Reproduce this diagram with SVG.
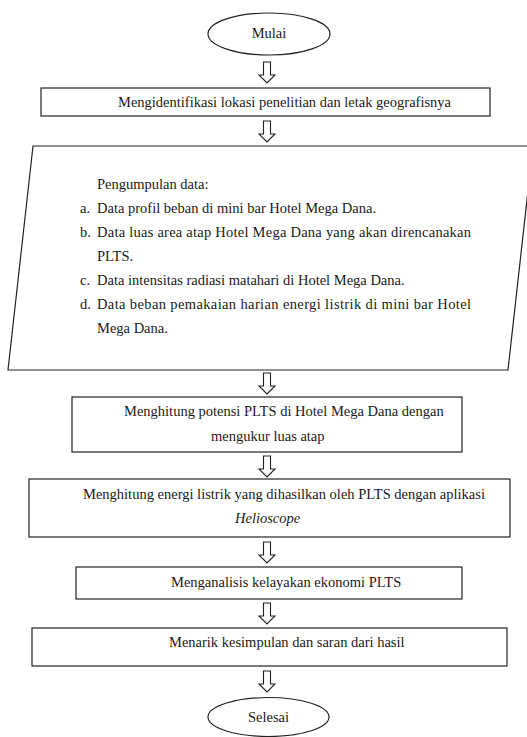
<svg xmlns="http://www.w3.org/2000/svg" width="527" height="737" viewBox="0 0 527 737">
<style>
.shape{fill:#fff;stroke:#222;stroke-width:1.2}
.arr{fill:#fff;stroke:#222;stroke-width:1.1;stroke-linejoin:miter}
text{font-family:"Liberation Serif","Times New Roman","DejaVu Serif",serif;font-size:14.5px;fill:#1a1a1a}
.c{text-anchor:middle}
.i{font-style:italic}
</style>
<defs>
<path id="arrow" d="M -3.5 0 H 3.5 V 13 H 8 L 0 21 L -8 13 H -3.5 Z"/>
</defs>
<rect width="527" height="737" fill="#fff"/>
<g id="connectors">
<use href="#arrow" class="arr" x="267" y="62"/>
<use href="#arrow" class="arr" x="267" y="121"/>
<use href="#arrow" class="arr" x="267" y="373"/>
<use href="#arrow" class="arr" x="267" y="456"/>
<use href="#arrow" class="arr" x="267" y="542"/>
<use href="#arrow" class="arr" x="267" y="603"/>
<use href="#arrow" class="arr" x="267" y="671"/>
</g>
<g id="mulai">
<ellipse class="shape" cx="269" cy="34" rx="61" ry="21"/>
<text class="c" x="269" y="38">Mulai</text>
</g>
<g id="identifikasi">
<rect class="shape" x="41" y="88" width="449" height="28"/>
<text x="118" y="107">Mengidentifikasi lokasi penelitian dan letak geografisnya</text>
</g>
<g id="pengumpulan">
<polygon class="shape" points="33,146 533,146 508,370 8,370"/>
<text x="97" y="189">Pengumpulan data:</text>
<text x="80" y="213">a.</text>
<text x="97" y="213">Data profil beban di mini bar Hotel Mega Dana.</text>
<text x="80" y="237">b.</text>
<text x="97" y="237" textLength="374" lengthAdjust="spacing">Data luas area atap Hotel Mega Dana yang akan direncanakan</text>
<text x="97" y="261">PLTS.</text>
<text x="80" y="285">c.</text>
<text x="97" y="285">Data intensitas radiasi matahari di Hotel Mega Dana.</text>
<text x="80" y="309">d.</text>
<text x="97" y="309" textLength="374" lengthAdjust="spacing">Data beban pemakaian harian energi listrik di mini bar Hotel</text>
<text x="97" y="333">Mega Dana.</text>
</g>
<g id="potensi">
<rect class="shape" x="72" y="397" width="390" height="55"/>
<text x="124" y="416">Menghitung potensi PLTS di Hotel Mega Dana dengan</text>
<text x="211" y="441">mengukur luas atap</text>
</g>
<g id="energi">
<rect class="shape" x="29" y="479" width="481" height="58"/>
<text x="83" y="499">Menghitung energi listrik yang dihasilkan oleh PLTS dengan aplikasi</text>
<text class="i" x="235" y="523">Helioscope</text>
</g>
<g id="ekonomi">
<rect class="shape" x="76" y="567" width="386" height="32"/>
<text x="171" y="587">Menganalisis kelayakan ekonomi PLTS</text>
</g>
<g id="kesimpulan">
<rect class="shape" x="32" y="628" width="475" height="38"/>
<text x="169" y="647">Menarik kesimpulan dan saran dari hasil</text>
</g>
<g id="selesai">
<ellipse class="shape" cx="268.5" cy="717" rx="60.5" ry="19.5"/>
<text class="c" x="268.5" y="722">Selesai</text>
</g>
</svg>
